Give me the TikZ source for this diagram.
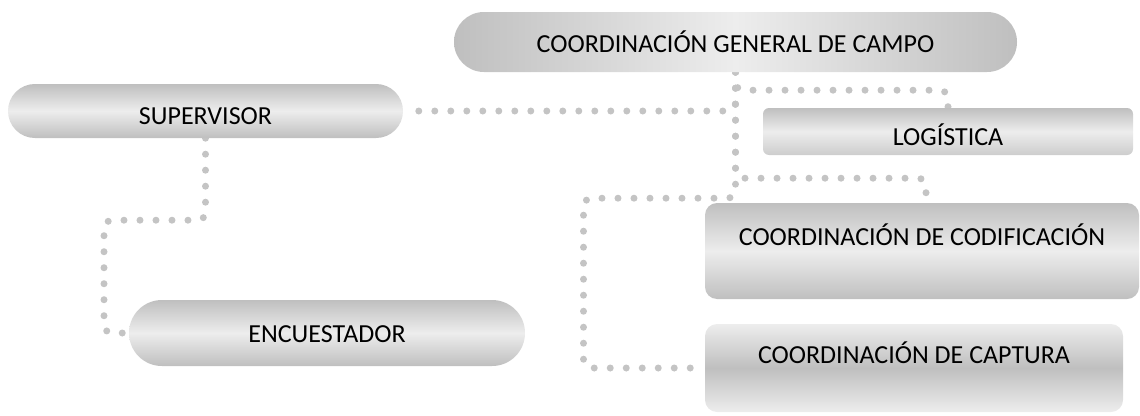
\documentclass[tikz,border=0pt]{standalone}
\usepackage{fontspec}
\setmainfont{Carlito}
\usetikzlibrary{backgrounds}
\definecolor{dk}{HTML}{BFBFBF}
\definecolor{lt}{HTML}{EDEDED}
\definecolor{dotc}{HTML}{C4C4C4}
\begin{document}
\begin{tikzpicture}[x=1pt,y=-1pt,
  box/.style={inner sep=0pt, font=\fontsize{26}{30}\selectfont},
  vgrad/.style={top color=dk, bottom color=dk, middle color=lt},
  conn/.style={draw=dotc, line width=7pt, line cap=round, dash pattern=on 0pt off 16pt, rounded corners=8pt}]
\useasboundingbox (0,0) rectangle (1140,415);

\node[box, minimum width=563pt, text height=40pt, text depth=20pt, rounded corners=29.9pt,
      left color=dk, right color=dk, middle color=lt] (gen) at (735.5,42) {COORDINACIÓN GENERAL DE CAMPO};
\node[box, vgrad, minimum width=395pt, text height=40pt, text depth=14pt, rounded corners=26.9pt] (sup) at (205.5,111) {SUPERVISOR};
\node[box, vgrad, minimum width=396pt, text height=42pt, text depth=24pt, rounded corners=32.9pt] (enc) at (327,333) {ENCUESTADOR};
\node[box, top color=dk, bottom color=dk!70!lt, middle color=lt, minimum width=370pt, text height=37pt, text depth=10pt, rounded corners=6pt] (log) at (948,131.5) {LOGÍSTICA};
\node[box, vgrad, minimum width=434pt, text height=42pt, text depth=54pt, rounded corners=12pt] (cod) at (922,251) {COORDINACIÓN DE CODIFICACIÓN};
\node[box, top color=lt, bottom color=lt, middle color=dk, minimum width=418pt, text height=39pt, text depth=49pt, rounded corners=12pt] (cap) at (914,368) {COORDINACIÓN DE CAPTURA};

\begin{scope}[on background layer]
\draw[conn] (gen.south) -- (gen.south |- sup.east) -- (sup.east);
\draw[conn] (gen.south) -- ++(0,18) -| (log.north);
\draw[conn] (gen.south) -- ++(0,106) -| ([xshift=4pt]cod.north);
\draw[conn] (gen.south) -- ++(0,126) -- ++(-152,0) |- (cap.west);
\draw[conn] (sup.south) -- ++(0,82) -- ++(-101.5,0) |- (enc.west);
\end{scope}
\end{tikzpicture}
\end{document}
